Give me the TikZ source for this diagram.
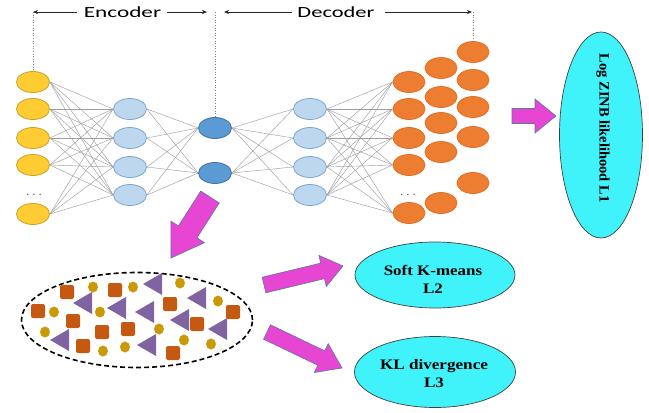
\documentclass[tikz,border=0pt]{standalone}
\usepackage{fontspec}
\setmainfont{Liberation Serif}
\newfontfamily\calib{Carlito}
\usetikzlibrary{calc,arrows.meta,shapes.geometric}
\definecolor{yelF}{HTML}{FFCC33}
\definecolor{yelD}{HTML}{C9A227}
\definecolor{lbF}{HTML}{BDD7EE}
\definecolor{lbD}{HTML}{7EA6D4}
\definecolor{dbF}{HTML}{5B9BD5}
\definecolor{dbD}{HTML}{41719C}
\definecolor{orF}{HTML}{ED7D31}
\definecolor{orD}{HTML}{E07028}
\definecolor{cyF}{HTML}{40F2FA}
\definecolor{mgF}{HTML}{E646D2}
\definecolor{mgD}{HTML}{5878A8}
\definecolor{sqC}{HTML}{C65911}
\definecolor{ciC}{HTML}{C99A06}
\definecolor{trC}{HTML}{8064A2}
\tikzset{
  neuron/.style={ellipse, minimum width=33, minimum height=21, inner sep=0, line width=0.8pt},
  yel/.style={neuron, fill=yelF, draw=yelD},
  lb/.style={neuron, fill=lbF, draw=lbD},
  db/.style={neuron, fill=dbF, draw=dbD},
  orn/.style={neuron, minimum width=32, fill=orF, draw=orD},
  edge/.style={draw=gray!75, line width=0.45pt},
  dimarr/.style={draw=black!85, line width=0.6pt, -{Stealth[length=5pt,width=4pt]}},
  guide/.style={draw=gray, dotted, line width=0.6pt},
  lossell/.style={ellipse, fill=cyF, draw=black!75, line width=0.7pt, inner sep=0},
  losstxt/.style={font=\bfseries\fontsize{14.5}{18}\selectfont, align=center, inner sep=0},
  dotstxt/.style={font=\calib\fontsize{11}{11}\selectfont, text=black!70, inner sep=0},
  fat/.style={fill=mgF, draw=mgD, line width=0.6pt, line join=miter},
}
% fat arrow: #1 start, #2 end, #3 shaft half width, #4 head half width, #5 head length (pt)
\newcommand\fatarrow[5]{%
  \coordinate (fah) at ($(#2)!#5pt!(#1)$);
  \draw[fat] ($(#1)!#3pt!90:(#2)$) -- ($(fah)!#3pt!90:(#2)$) -- ($(fah)!#4pt!90:(#2)$) -- (#2)
    -- ($(fah)!#4pt!-90:(#2)$) -- ($(fah)!#3pt!-90:(#2)$) -- ($(#1)!#3pt!-90:(#2)$) -- cycle;}
\newcommand\sqr[2]{\fill[sqC, rounded corners=2pt] (#1-7,#2-7) rectangle (#1+7,#2+7);}
\newcommand\dotc[2]{\fill[ciC] (#1,#2) ellipse (5 and 5.5);}
\newcommand\trg[2]{\fill[trC] (#1-10,#2) -- (#1+9,#2-11) -- (#1+9,#2+11) -- cycle;}
\begin{document}
\begin{tikzpicture}[x=1pt,y=-1pt]
\useasboundingbox (0,0) rectangle (649,413);

% ---- input layer
\foreach \n/\y in {1/82,2/109,3/138,4/165,5/214} {\node[yel] (i\n) at (33,\y) {};}
\node[dotstxt] (idots) at (34,195) {.\hspace{3.5pt}.\hspace{3.5pt}.};
% ---- hidden encoder
\foreach \n/\y in {1/109,2/138,3/167,4/195} {\node[lb] (h\n) at (130,\y) {};}
% ---- bottleneck
\node[db] (b1) at (215,128) {};
\node[db] (b2) at (215,173) {};
% ---- hidden decoder
\foreach \n/\y in {1/109,2/138,3/167,4/195} {\node[lb] (d\n) at (310,\y) {};}
% ---- output layers
\foreach \n/\y in {1/82,2/109,3/138,4/165,5/213} {\node[orn] (o\n) at (409,\y) {};}
\node[dotstxt] (odots) at (408,195) {.\hspace{3.5pt}.\hspace{3.5pt}.};
\foreach \n/\y in {1/68,2/97,3/123,4/152,5/203} {\node[orn] (p\n) at (441,\y) {};}
\foreach \n/\y in {1/52,2/80,3/107,4/137,5/183} {\node[orn] (q\n) at (473,\y) {};}

% ---- connections
\foreach \a in {1,...,5} {\foreach \b in {1,...,4} {\draw[edge] (i\a.east) -- (h\b.west);}}
\foreach \a in {1,...,4} {\foreach \b in {1,2} {\draw[edge] (h\a.east) -- (b\b.west);}}
\foreach \a in {1,2} {\foreach \b in {1,...,4} {\draw[edge] (b\a.east) -- (d\b.west);}}
\foreach \a in {1,...,4} {\foreach \b in {1,...,5} {\draw[edge] (d\a.east) -- (o\b.west);}}

% ---- encoder / decoder labels
\node[font=\calib\fontsize{15.5}{16}\selectfont, inner sep=0, xscale=1.5] (enc) at (122.5,12) {Encoder};
\node[font=\calib\fontsize{15.5}{16}\selectfont, inner sep=0, xscale=1.45] (dec) at (336,12) {Decoder};
\coordinate (eL) at (33,12);
\coordinate (eA) at (77,12);
\coordinate (eB) at (167,12);
\coordinate (eR) at (207,12);
\coordinate (mid) at (215,12);
\coordinate (dL) at (224,12);
\coordinate (dA) at (292,12);
\coordinate (dB) at (385,12);
\coordinate (dR) at (472,12);
\coordinate (dV) at (473,12);
\draw[dimarr] (eA) -- (eL);
\draw[dimarr] (eB) -- (eR);
\draw[dimarr] (dA) -- (dL);
\draw[dimarr] (dB) -- (dR);
\draw[guide] (eL) -- (i1.north);
\draw[guide] (mid) -- (b1.north);
\draw[guide] (dV) -- (q1.north);

% ---- loss ellipses
\node[lossell, minimum width=83, minimum height=206] (L1) at (601,135) {};
\node[losstxt, rotate=-90] (L1t) at (603,128) {Log ZINB likelihood L1};
\node[lossell, minimum width=160, minimum height=66] (L2) at (435,275) {};
\node[losstxt, xscale=1.17] (L2t) at (433,279) {Soft K-means\\L2};
\node[lossell, minimum width=161, minimum height=71] (L3) at (435,372) {};
\node[losstxt, xscale=1.18] (L3t) at (434,374) {KL divergence\\L3};

% ---- cluster ellipse
\node[ellipse, draw=black, dashed, dash pattern=on 5pt off 3pt, line width=1.6pt,
      minimum width=231, minimum height=95, inner sep=0] (cl) at (137,320) {};
\foreach \x/\y in {67/292,115/290,38/311,73/321,102/332,128/329,83/346,170/304,197/324,233/312,173/353} {\sqr{\x}{\y}}
\foreach \x/\y in {93/287,133/287,180/283,54/312,100/312,218/301,45/332,159/329,184/340,211/344,103/351,125/347} {\dotc{\x}{\y}}
\foreach \x/\y in {153/284,197/298,83/303,117/308,145/312,180/320,218/329,60/340,147/345} {\trg{\x}{\y}}

% ---- fat arrows
\coordinate (a1s) at (512,116); \coordinate (a1e) at (556,116);
\coordinate (a2s) at (210,197); \coordinate (a2e) at (171,258);
\coordinate (a3s) at (264,285); \coordinate (a3e) at (343,266);
\coordinate (a4s) at (267,332); \coordinate (a4e) at (342,368);
\fatarrow{a1s}{a1e}{7.5}{17}{21}
\fatarrow{a2s}{a2e}{11}{20}{31}
\fatarrow{a3s}{a3e}{8}{16}{21}
\fatarrow{a4s}{a4e}{8}{16}{23}
\end{tikzpicture}
\end{document}
